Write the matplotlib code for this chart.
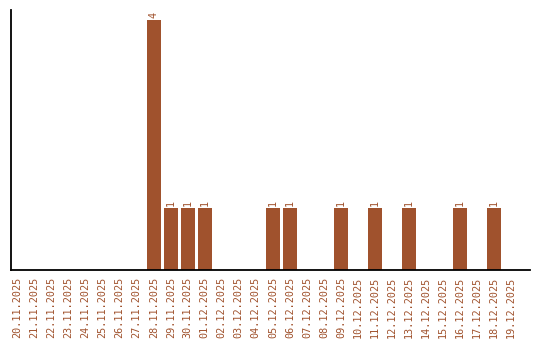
import numpy as np
import matplotlib
matplotlib.use("Agg")
import matplotlib.pyplot as plt

# Daten
dates = ['20.11.2025', '21.11.2025', '22.11.2025', '23.11.2025', '24.11.2025',
         '25.11.2025', '26.11.2025', '27.11.2025', '28.11.2025', '29.11.2025',
         '30.11.2025', '01.12.2025', '02.12.2025', '03.12.2025', '04.12.2025',
         '05.12.2025', '06.12.2025', '07.12.2025', '08.12.2025', '09.12.2025',
         '10.12.2025', '11.12.2025', '12.12.2025', '13.12.2025', '14.12.2025',
         '15.12.2025', '16.12.2025', '17.12.2025', '18.12.2025', '19.12.2025']
counts = [0, 0, 0, 0, 0, 0, 0, 0, 4, 1,
          1, 1, 0, 0, 0, 1, 1, 0, 0, 1,
          0, 1, 0, 1, 0, 0, 1, 0, 1, 0]

color = '#a0522d'
fontfam = 'DejaVu Sans Mono'

fig = plt.figure(figsize=(5.4, 3.4), dpi=100)
ax = fig.add_axes([11 / 540, 70 / 340, 519 / 540, 260 / 340])

x = np.arange(len(dates))
bars = ax.bar(x, counts, width=0.82, color=color)

for xi, c in zip(x, counts):
    if c > 0:
        ax.text(xi, c + 0.03, str(c), rotation=90, ha='center', va='bottom',
                color=color, fontsize=7.3, family=fontfam)

ax.set_xticks(x)
ax.set_xticklabels(dates, rotation=90, color=color, fontsize=7.3, family=fontfam)
ax.tick_params(axis='x', length=0, pad=5)
ax.set_yticks([])
ax.set_xlim(-0.38, 30.1)
ax.set_ylim(0, 4.16)

for s in ['top', 'right']:
    ax.spines[s].set_visible(False)
for s in ['left', 'bottom']:
    ax.spines[s].set_linewidth(1.3)
    ax.spines[s].set_color('black')

fig.savefig('out.png', dpi=100)
